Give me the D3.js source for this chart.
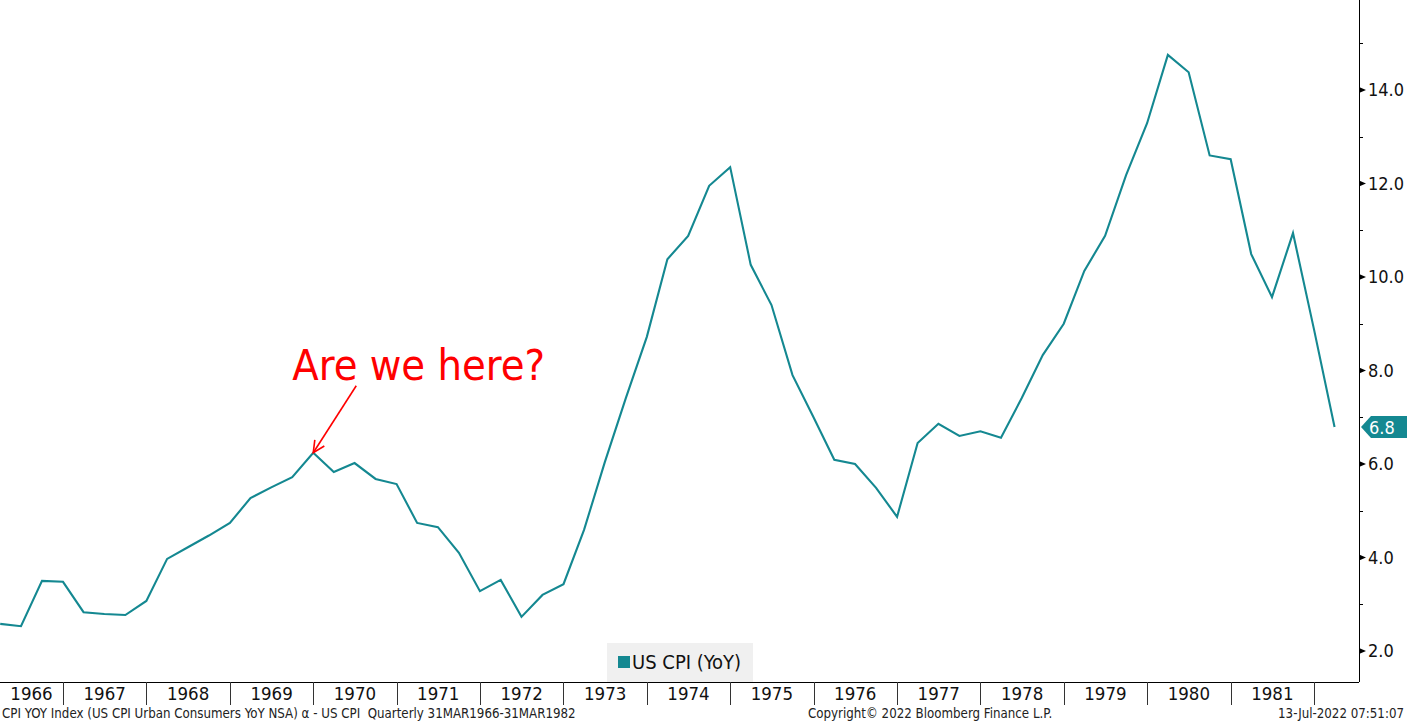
<!DOCTYPE html>
<html>
<head>
<meta charset="utf-8">
<script src="https://cdn.jsdelivr.net/npm/d3@7"></script>
<style>
  html, body { margin: 0; padding: 0; background: #fff; }
  svg { display: block; }
  text { font-family: "DejaVu Sans Condensed", "DejaVu Sans", sans-serif; }
</style>
</head>
<body>
<svg id="chart" width="1407" height="722"></svg>
<script>
// ---------- DATA ----------
const seriesName = "US CPI (YoY)";
const firstQuarterEnd = "1966-03-31";   // quarterly observations, end of quarter
const cpiYoY = [
  2.58, 2.53, 3.50, 3.48,      // 1966
  2.83, 2.79, 2.77, 3.07,      // 1967
  3.97, 4.22, 4.47, 4.74,      // 1968
  5.27, 5.50, 5.72, 6.24,      // 1969
  5.83, 6.02, 5.68, 5.57,      // 1970
  4.74, 4.65, 4.10, 3.28,      // 1971
  3.52, 2.73, 3.20, 3.43,      // 1972
  4.59, 6.04, 7.41, 8.72,      // 1973
  10.38, 10.88, 11.95, 12.35,  // 1974
  10.26, 9.40, 7.90, 7.00,     // 1975
  6.09, 6.00, 5.49, 4.87,      // 1976
  6.45, 6.86, 6.60, 6.70,      // 1977
  6.56, 7.41, 8.33, 9.00,      // 1978
  10.13, 10.88, 12.18, 13.29,  // 1979
  14.75, 14.38, 12.60, 12.52,  // 1980
  10.49, 9.57, 10.94, 8.88,    // 1981
  6.79                          // 1982
];
const yMajorTicks = [2, 4, 6, 8, 10, 12, 14];
const yMinorTicks = [3, 5, 7, 9, 11, 13, 15];
const annotationText = "Are we here?";
const annotationIndex = 15; // Dec 1969 peak
const footerLeft = "CPI YOY Index (US CPI Urban Consumers YoY NSA) \u03B1 - US CPI  Quarterly 31MAR1966-31MAR1982";
const footerMid = "Copyright\u00A9 2022 Bloomberg Finance L.P.";
const footerRight = "13-Jul-2022 07:51:07";

// ---------- SETUP ----------
const W = 1407, H = 722;
const plotRight = 1359, plotBottom = 682;
const lineColor = "#148891";

const svg = d3.select("#chart");
const parse = d3.timeParse("%Y-%m-%d");
const start = parse(firstQuarterEnd);
const data = cpiYoY.map((v, i) => ({ date: d3.timeMonth.offset(d3.timeDay.offset(start, 1), 3 * i), value: v }));

const x = d3.scaleTime()
  .domain([new Date(1967, 0, 1), new Date(1982, 0, 1)])
  .range([63, 1314]);
const y = d3.scaleLinear().domain([2, 14]).range([651, 90]);

// clip
svg.append("defs").append("clipPath").attr("id", "plotclip")
  .append("rect").attr("x", 0).attr("y", 0).attr("width", plotRight).attr("height", plotBottom);

// line
const line = d3.line().x(d => x(d.date)).y(d => y(d.value));
svg.append("path")
  .datum(data)
  .attr("clip-path", "url(#plotclip)")
  .attr("fill", "none")
  .attr("stroke", lineColor)
  .attr("stroke-width", 2.1)
  .attr("stroke-linejoin", "miter")
  .attr("d", line);

// axes lines
svg.append("line").attr("x1", 0).attr("x2", plotRight).attr("y1", plotBottom + 0.5).attr("y2", plotBottom + 0.5)
  .attr("stroke", "#000").attr("stroke-width", 1);
svg.append("line").attr("x1", plotRight + 0.5).attr("x2", plotRight + 0.5).attr("y1", 0).attr("y2", plotBottom)
  .attr("stroke", "#000").attr("stroke-width", 1);

// y ticks (right)
const yAxis = svg.append("g");
yAxis.selectAll(".minor").data(yMinorTicks).join("line")
  .attr("x1", plotRight).attr("x2", plotRight + 4)
  .attr("y1", d => Math.round(y(d)) + 0.5).attr("y2", d => Math.round(y(d)) + 0.5)
  .attr("stroke", "#000");
yAxis.selectAll(".major").data(yMajorTicks).join("path")
  .attr("d", d => { const yy = y(d); return `M${plotRight},${yy - 3}L${plotRight + 7},${yy}L${plotRight},${yy + 3}Z`; })
  .attr("fill", "#000");
yAxis.selectAll("text").data(yMajorTicks).join("text")
  .attr("x", plotRight + 9).attr("y", d => y(d))
  .attr("dy", "0.36em")
  .attr("font-size", 18)
  .attr("fill", "#111")
  .text(d => d3.format(".1f")(d));

// x axis: year separators & labels
const years = d3.timeYear.range(new Date(1966, 0, 1), new Date(1983, 0, 1));
const xAxis = svg.append("g");
years.forEach(yr => {
  const x0 = x(yr);
  if (x0 > 0 && x0 < plotRight) {
    xAxis.append("line")
      .attr("x1", Math.round(x0) + 0.5).attr("x2", Math.round(x0) + 0.5)
      .attr("y1", plotBottom).attr("y2", 705)
      .attr("stroke", "#333").attr("stroke-width", 1);
  }
  const a = Math.max(0, x0), b = Math.min(plotRight, x(d3.timeYear.offset(yr, 1)));
  if (b - a >= 50) {
    xAxis.append("text")
      .attr("x", (a + b) / 2).attr("y", 700)
      .attr("text-anchor", "middle")
      .attr("font-size", 18.5)
      .attr("fill", "#111")
      .text(d3.timeFormat("%Y")(yr));
  }
});

// legend
const lg = svg.append("g");
lg.append("rect").attr("x", 607).attr("y", 643).attr("width", 146).attr("height", 39).attr("fill", "#f0f0f0");
lg.append("rect").attr("x", 618).attr("y", 656).attr("width", 12).attr("height", 12).attr("fill", lineColor);
lg.append("text").attr("x", 632).attr("y", 669).attr("font-size", 20).attr("fill", "#111").text(seriesName);

// last value flag
const last = data[data.length - 1];
const ly = y(last.value);
const fl = svg.append("g");
fl.append("path")
  .attr("d", `M${plotRight + 2},${ly}L${plotRight + 12},${ly - 11}L${W},${ly - 11}L${W},${ly + 11}L${plotRight + 12},${ly + 11}Z`)
  .attr("fill", lineColor);
fl.append("text").attr("x", plotRight + 10).attr("y", ly).attr("dy", "0.36em")
  .attr("font-size", 18).attr("fill", "#fff").text(d3.format(".1f")(last.value));

// annotation
const ap = data[annotationIndex];
const tipX = x(ap.date), tipY = y(ap.value);
const tailX = tipX + 43, tailY = tipY - 67;
const ann = svg.append("g").attr("stroke", "#ff0000").attr("stroke-width", 1.6).attr("fill", "none");
ann.append("line").attr("x1", tailX).attr("y1", tailY).attr("x2", tipX).attr("y2", tipY);
const ang = Math.atan2(tipY - tailY, tipX - tailX);
const hl = 13, ha = 0.45;
ann.append("path")
  .attr("d", `M${tipX - hl * Math.cos(ang - ha)},${tipY - hl * Math.sin(ang - ha)}L${tipX},${tipY}L${tipX - hl * Math.cos(ang + ha)},${tipY - hl * Math.sin(ang + ha)}`);
svg.append("text").attr("x", tipX - 21).attr("y", tipY - 73)
  .attr("font-size", 43).attr("fill", "#ff0000").text(annotationText);

// footer
const ft = svg.append("g").attr("font-size", 13.2).attr("fill", "#222");
ft.append("text").attr("x", 2).attr("y", 718).attr("xml:space", "preserve").style("white-space", "pre").text(footerLeft);
ft.append("text").attr("x", 808).attr("y", 718).text(footerMid);
ft.append("text").attr("x", 1404).attr("y", 718).attr("text-anchor", "end").text(footerRight);
</script>
</body>
</html>
